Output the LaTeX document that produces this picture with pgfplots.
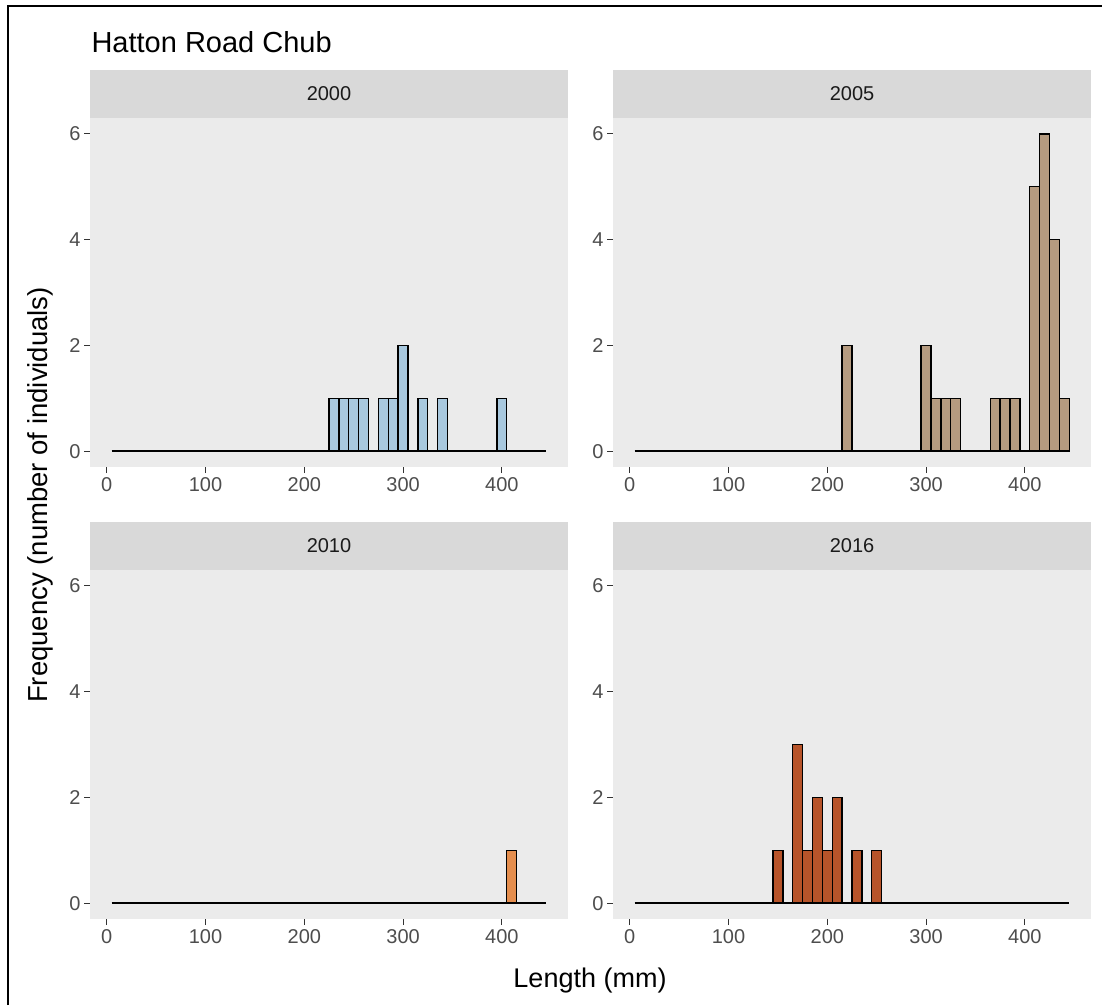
\documentclass[border=0pt]{standalone}
\usepackage{pgfplots}
\pgfplotsset{compat=1.18}
\usepackage{fontspec}
\setmainfont{Liberation Sans}

\definecolor{panelbg}{HTML}{EBEBEB}
\definecolor{stripbg}{HTML}{D9D9D9}
\definecolor{tickcol}{HTML}{333333}
\definecolor{ticklab}{HTML}{4D4D4D}
\definecolor{striptxt}{HTML}{1A1A1A}
\definecolor{c2000}{RGB}{168,200,222}
\definecolor{c2005}{RGB}{181,155,128}
\definecolor{c2010}{RGB}{229,142,78}
\definecolor{c2016}{RGB}{183,84,42}

\pgfplotsset{
  facet/.style={
    scale only axis, width=478pt, height=349pt, anchor=south west,
    xmin=-17, xmax=467, ymin=-0.3, ymax=6.3,
    axis lines*=left, axis line style={draw=none},
    axis background/.style={fill=panelbg},
    xtick={0,100,200,300,400}, ytick={0,2,4,6},
    major tick length=6pt, tick align=outside,
    tick style={tickcol, line width=1.1pt},
    tick label style={font=\fontsize{20}{23}\selectfont, text=ticklab},
    xticklabel style={yshift=-1pt},
    /pgf/number format/assume math mode=true,
    clip=false,
  },
  strip/.style={
    after end axis/.append code={
      \fill[stripbg] (rel axis cs:0,1) rectangle ([yshift=48pt]rel axis cs:1,1);
      \node[text=striptxt, font=\fontsize{20}{23}\selectfont]
        at ([yshift=24pt]rel axis cs:0.5,1) {#1};
    }
  },
  % histogram bins of 10 mm, left edges given; the last point closes the last bin
  hbar/.style={ybar interval, draw=black, line width=1.4pt, fill=#1},
  zeroline/.style={black, line width=1.6pt, forget plot},
}

\begin{document}
\begin{tikzpicture}
\useasboundingbox (0pt,0pt) rectangle (1102pt,-1005pt);
\draw[line width=1.5pt] (8pt,-1005pt) -- (8pt,-6pt) -- (1102pt,-6pt);

% 2000
\begin{axis}[facet, at={(90pt,-467pt)}, strip={2000}]
  \addplot[zeroline] coordinates {(5,0) (445,0)};
  \addplot[hbar=c2000] coordinates {(225,1) (235,1) (245,1) (255,1) (265,0) (275,1) (285,1) (295,2) (305,0) (315,1) (325,0) (335,1) (345,0) (355,0) (365,0) (375,0) (385,0) (395,1) (405,0)};
\end{axis}

% 2005
\begin{axis}[facet, at={(613pt,-467pt)}, strip={2005}]
  \addplot[zeroline] coordinates {(5,0) (445,0)};
  \addplot[hbar=c2005] coordinates {(215,2) (225,0) (235,0) (245,0) (255,0) (265,0) (275,0) (285,0) (295,2) (305,1) (315,1) (325,1) (335,0) (345,0) (355,0) (365,1) (375,1) (385,1) (395,0) (405,5) (415,6) (425,4) (435,1) (445,0)};
\end{axis}

% 2010
\begin{axis}[facet, at={(90pt,-919pt)}, strip={2010}]
  \addplot[zeroline] coordinates {(5,0) (445,0)};
  \addplot[hbar=c2010] coordinates {(405,1) (415,0)};
\end{axis}

% 2016
\begin{axis}[facet, at={(613pt,-919pt)}, strip={2016}]
  \addplot[zeroline] coordinates {(5,0) (445,0)};
  \addplot[hbar=c2016] coordinates {(145,1) (155,0) (165,3) (175,1) (185,2) (195,1) (205,2) (215,0) (225,1) (235,0) (245,1) (255,0)};
\end{axis}

\node[anchor=base west, font=\fontsize{29}{34}\selectfont, text=black] at (88pt,-52pt) {Hatton Road Chub};
\node[rotate=90, font=\fontsize{27.5}{32}\selectfont, text=black] at (40pt,-495pt) {Frequency (number of individuals)};
\node[font=\fontsize{27}{32}\selectfont, text=black] at (590pt,-980pt) {Length (mm)};
\end{tikzpicture}
\end{document}
